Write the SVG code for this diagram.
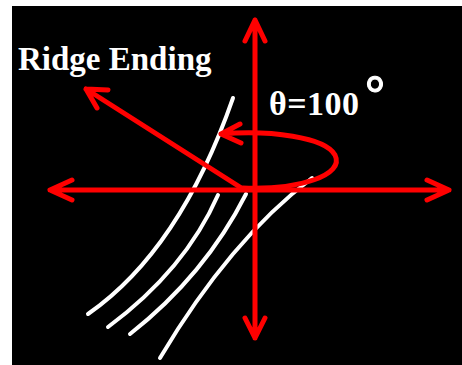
<svg xmlns="http://www.w3.org/2000/svg" width="462" height="365" viewBox="0 0 462 365">
<style>
.ax{stroke:#ff0000;stroke-width:5;fill:none;stroke-linecap:round;stroke-linejoin:round}
.ridge{stroke:#ffffff;stroke-width:4;fill:none;stroke-linecap:round}
.lbl{font-family:"Liberation Serif","Times New Roman",serif;font-weight:bold;fill:#ffffff}
</style>
<rect x="0" y="0" width="462" height="365" fill="#ffffff"/>
<rect x="12" y="6" width="450" height="359" fill="#000000"/>
<g id="ridges">
<path class="ridge" d="M233,98 Q180,250 88,314"/>
<path class="ridge" d="M218,195 Q185,270 108,327"/>
<path class="ridge" d="M246,194 Q205,275 130,334"/>
<path class="ridge" d="M312,178 Q230,240 160,358"/>
</g>
<g id="connectors">
<path class="ax" d="M50,190 H449 M72,180 L50,190 L72,200 M427,180 L449,190 L427,200"/>
<path class="ax" d="M255,20 V338 M245,41 L255,20 L265,41 M245,318 L255,338 L265,318"/>
<path class="ax" d="M243,189 L86,89 M108,90 L86,89 L97,108"/>
<path class="ax" d="M243,188 C300,190 345,175 335,155 C325,137 270,130 221,134 M240,124 L221,134 L241,143"/>
</g>
<g id="label-ridge">
<text class="lbl" x="18" y="70" font-size="33">Ridge Ending</text>
</g>
<g id="label-theta">
<text class="lbl" x="269" y="115" font-size="34" textLength="90">θ=100</text>
<text class="lbl" x="375" y="110" font-size="50" text-anchor="middle" stroke="#ffffff" stroke-width="1">°</text>
</g>
</svg>
